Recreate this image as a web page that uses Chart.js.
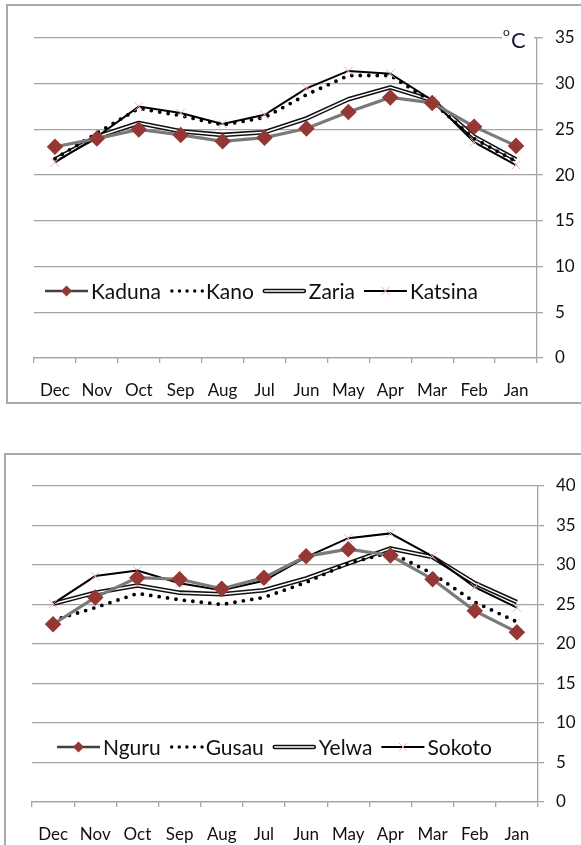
<!DOCTYPE html>
<html>
<head>
<meta charset="utf-8">
<script src="https://cdn.jsdelivr.net/npm/chart.js@4"></script>
<style>
  body { margin: 0; background: #fff; width: 581px; height: 845px; overflow: hidden; position: relative; }
  .box { position: absolute; border: 2px solid #a8a8a8; box-sizing: border-box; }
  canvas { position: absolute; left: 0; }
</style>
</head>
<body>
<div class="box" style="left:6px; top:4px; width:620px; height:400px;"></div>
<div class="box" style="left:4px; top:453px; width:620px; height:460px;"></div>
<canvas id="chart1" width="581" height="400" style="top:0px"></canvas>
<canvas id="chart2" width="581" height="395" style="top:450px"></canvas>
<script>
const months = ['Dec','Nov','Oct','Sep','Aug','Jul','Jun','May','Apr','Mar','Feb','Jan'];

// upper panel
const kaduna  = [23.1, 24.0, 25.0, 24.4, 23.7, 24.1, 25.1, 26.9, 28.5, 27.9, 25.3, 23.2];
const kano    = [21.8, 24.6, 27.3, 26.5, 25.5, 26.3, 28.8, 30.9, 30.9, 28.0, 24.0, 21.5];
const zaria   = [21.7, 24.2, 25.7, 24.8, 24.4, 24.7, 26.2, 28.3, 29.6, 28.2, 24.2, 21.7];
const katsina = [21.4, 24.2, 27.5, 26.8, 25.6, 26.6, 29.5, 31.4, 31.1, 28.2, 23.6, 21.1];

// lower panel
const nguru  = [22.5, 25.9, 28.4, 28.2, 27.0, 28.4, 31.1, 32.0, 31.2, 28.2, 24.2, 21.5];
const gusau  = [23.0, 24.6, 26.4, 25.6, 25.0, 25.9, 27.8, 30.2, 31.6, 28.9, 25.3, 22.8];
const yelwa  = [25.1, 26.5, 27.4, 26.5, 26.3, 26.8, 28.3, 30.2, 32.1, 31.0, 27.7, 25.3];
const sokoto = [25.1, 28.6, 29.3, 27.7, 26.8, 28.0, 31.0, 33.4, 34.0, 31.1, 27.2, 24.6];

const yTicks1 = { min: 0, max: 35, step: 5 };
const yTicks2 = { min: 0, max: 40, step: 5 };

const FONT = 'Lato';
const GRID = '#a4a4a4';
const RED = '#953735';
const PINK = '#e3b4b4';

function diamondSet(label, data) {
    return { label, data, kind: 'diamond', borderColor: '#7a7a7a', borderWidth: 3.2,
        pointStyle: 'rectRot', pointRadius: 6, pointBackgroundColor: RED, pointBorderColor: RED, order: 1 };
}
function dotSet(label, data) {
    return { label, data, kind: 'dots', borderColor: '#000', borderWidth: 3.8,
        borderDash: [0, 8.5], borderCapStyle: 'round', pointRadius: 0, order: 3 };
}
function doubleSet(label, data) {
    return { label, data, kind: 'double', borderColor: '#111', borderWidth: 4.6,
        borderJoinStyle: 'round', pointRadius: 0, order: 4 };
}
function crossSet(label, data) {
    return { label, data, kind: 'cross', borderColor: '#000', borderWidth: 2,
        pointStyle: 'crossRot', pointRadius: 6, pointBorderWidth: 1, pointBorderColor: PINK, order: 2 };
}

// white core for the double lines
const doubleLine = {
    id: 'doubleLine',
    afterDatasetDraw(chart, args) {
        const ds = chart.data.datasets[args.index];
        if (ds.kind !== 'double') return;
        const pts = args.meta.data;
        const ctx = chart.ctx;
        ctx.save();
        ctx.strokeStyle = '#fff';
        ctx.lineWidth = 1.5;
        ctx.lineJoin = 'round';
        ctx.beginPath();
        pts.forEach((p, i) => i ? ctx.lineTo(p.x, p.y) : ctx.moveTo(p.x, p.y));
        ctx.stroke();
        ctx.restore();
    }
};

function drawSymbol(ctx, kind, x, y, w) {
    ctx.save();
    if (kind === 'diamond') {
        ctx.strokeStyle = '#404040'; ctx.lineWidth = 2.5;
        ctx.beginPath(); ctx.moveTo(x, y); ctx.lineTo(x + w, y); ctx.stroke();
        ctx.fillStyle = RED;
        const c = x + w / 2, r = 5.5;
        ctx.beginPath(); ctx.moveTo(c, y - r); ctx.lineTo(c + r, y); ctx.lineTo(c, y + r); ctx.lineTo(c - r, y); ctx.closePath(); ctx.fill();
    } else if (kind === 'dots') {
        ctx.fillStyle = '#000';
        for (let i = 0; i < 5; i++) {
            ctx.beginPath(); ctx.arc(x + 2 + i * 7.6, y, 1.7, 0, Math.PI * 2); ctx.fill();
        }
    } else if (kind === 'double') {
        ctx.lineCap = 'round';
        ctx.strokeStyle = '#111'; ctx.lineWidth = 4.6;
        ctx.beginPath(); ctx.moveTo(x + 2, y); ctx.lineTo(x + w - 2, y); ctx.stroke();
        ctx.strokeStyle = '#fff'; ctx.lineWidth = 1.5;
        ctx.beginPath(); ctx.moveTo(x + 2, y); ctx.lineTo(x + w - 2, y); ctx.stroke();
    } else {
        ctx.strokeStyle = '#000'; ctx.lineWidth = 2;
        ctx.beginPath(); ctx.moveTo(x, y); ctx.lineTo(x + w, y); ctx.stroke();
        ctx.strokeStyle = PINK; ctx.lineWidth = 1;
        const c = x + w / 2, r = 4;
        ctx.beginPath(); ctx.moveTo(c - r, y - r); ctx.lineTo(c + r, y + r);
        ctx.moveTo(c + r, y - r); ctx.lineTo(c - r, y + r); ctx.stroke();
    }
    ctx.restore();
}

// legend sits inside the plot, like the spreadsheet one
const inlineLegend = {
    id: 'inlineLegend',
    afterDraw(chart, args, opts) {
        const ctx = chart.ctx;
        let x = opts.x;
        const y = opts.y;
        ctx.save();
        ctx.font = '21px ' + FONT;
        ctx.textBaseline = 'middle';
        ctx.fillStyle = '#111';
        chart.data.datasets.forEach(ds => {
            const w = ds.kind === 'dots' ? 33 : 43;
            drawSymbol(ctx, ds.kind, x, y, w);
            x += w + 3;
            ctx.fillText(ds.label, x, y + 1);
            x += ctx.measureText(ds.label).width + 9;
        });
        ctx.restore();
    }
};

const unitLabel = {
    id: 'unitLabel',
    afterDraw(chart, args, opts) {
        if (!opts.show) return;
        const ctx = chart.ctx;
        ctx.save();
        ctx.fillStyle = '#fff';
        ctx.fillRect(502, 30, 32, 18);
        ctx.fillStyle = '#1a1a3a';
        ctx.textBaseline = 'alphabetic';
        ctx.font = '12px ' + FONT;
        ctx.fillText('o', 503, 36);
        ctx.font = '22px ' + FONT;
        ctx.fillText('C', 511, 48);
        ctx.restore();
    }
};

function makeChart(id, sets, yt, box, legendPos, showUnit) {
    const ctx = document.getElementById(id).getContext('2d');
    return new Chart(ctx, {
        type: 'line',
        data: { labels: months, datasets: sets },
        options: {
            responsive: false,
            animation: false,
            layout: { padding: { left: box.left, top: box.top, right: 0, bottom: 0 } },
            elements: { line: { tension: 0 } },
            plugins: {
                legend: { display: false },
                tooltip: { enabled: false },
                inlineLegend: legendPos,
                unitLabel: { show: showUnit }
            },
            scales: {
                x: {
                    offset: true,
                    grid: { offset: true, drawOnChartArea: false, drawTicks: true, tickLength: 5, color: GRID, lineWidth: 1.3 },
                    border: { display: true, color: GRID, width: 1.3 },
                    ticks: { autoSkip: false, maxRotation: 0, padding: 17, color: '#111', font: { family: FONT, size: 17 } },
                    afterFit: s => { s.height = box.xh; }
                },
                y: {
                    position: 'right',
                    min: yt.min, max: yt.max,
                    grid: { color: GRID, lineWidth: 1.3, tickLength: 6 },
                    border: { display: true, color: GRID, width: 1.3 },
                    ticks: { stepSize: yt.step, padding: 12, color: '#111', font: { family: FONT, size: 17 } },
                    afterFit: s => { s.width = box.yw; }
                }
            }
        },
        plugins: [doubleLine, inlineLegend, unitLabel]
    });
}

window.onload = () => {
    makeChart('chart1',
        [diamondSet('Kaduna', kaduna), dotSet('Kano', kano), doubleSet('Zaria', zaria), crossSet('Katsina', katsina)],
        yTicks1, { left: 34, top: 38, yw: 44, xh: 42 }, { x: 45, y: 291 }, true);
    makeChart('chart2',
        [diamondSet('Nguru', nguru), dotSet('Gusau', gusau), doubleSet('Yelwa', yelwa), crossSet('Sokoto', sokoto)],
        yTicks2, { left: 32, top: 36, yw: 43, xh: 43 }, { x: 57, y: 297 }, false);
};
</script>
</body>
</html>
